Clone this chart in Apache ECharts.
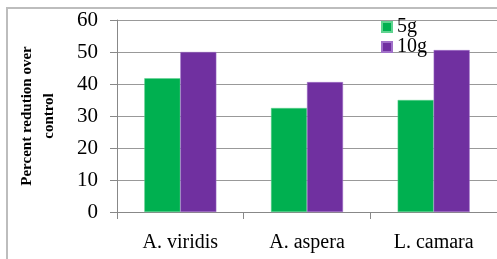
<!DOCTYPE html>
<html>
<head>
<meta charset="utf-8">
<script src="https://cdn.jsdelivr.net/npm/echarts@6/dist/echarts.min.js"></script>
<style>
html, body { margin: 0; padding: 0; background: #fff; }
#main { width: 497px; height: 259px; }
</style>
</head>
<body>
<div id="main"></div>
<script>
var categories = ['A. viridis', 'A. aspera', 'L. camara'];
var g5 = [41.8, 32.5, 35.0];
var g10 = [50.0, 40.6, 50.6];

var chart = echarts.init(document.getElementById('main'));
var serif = '"Liberation Serif", "DejaVu Serif", serif';
option = {
    animation: false,
    backgroundColor: '#fff',
    // outer frame of the figure
    graphic: [{
        type: 'polyline',
        shape: { points: [[7, 259], [7, 8], [497, 8]] },
        style: { stroke: '#bdbdbd', lineWidth: 2, fill: null }
    }],
    grid: { left: 117, top: 20, right: 0, bottom: 47 },
    legend: {
        orient: 'vertical',
        left: 376, top: 12,
        itemWidth: 10, itemHeight: 10,
        itemGap: 0,
        icon: 'rect',
        textStyle: { fontFamily: serif, fontSize: 20, color: '#000' },
        data: ['5g', '10g']
    },
    xAxis: {
        type: 'category',
        data: categories,
        axisLine: { lineStyle: { color: '#888' } },
        axisTick: { show: true, length: 7, lineStyle: { color: '#888' } },
        axisLabel: { fontFamily: serif, fontSize: 20, color: '#000', margin: 21 }
    },
    yAxis: {
        type: 'value',
        min: 0, max: 60, interval: 10,
        name: 'Percent redution over\ncontrol',
        nameLocation: 'middle',
        nameGap: 57,
        nameTextStyle: { fontFamily: serif, fontSize: 15, fontWeight: 'bold', color: '#000', lineHeight: 22 },
        axisLine: { show: true, lineStyle: { color: '#888' } },
        axisTick: { show: true, length: 7, lineStyle: { color: '#888' } },
        splitLine: { lineStyle: { color: '#999' } },
        axisLabel: { fontFamily: serif, fontSize: 21, color: '#000', margin: 19 }
    },
    series: [{
        name: '5g',
        type: 'bar',
        data: g5,
        barWidth: 36,
        barGap: '0%',
        itemStyle: { color: '#00b050', borderColor: '#5fd38f', borderWidth: 0.5 }
    }, {
        name: '10g',
        type: 'bar',
        data: g10,
        barWidth: 36,
        itemStyle: { color: '#7030a0', borderColor: '#a070c8', borderWidth: 0.5 }
    }]
};
chart.setOption(option);
</script>
</body>
</html>
